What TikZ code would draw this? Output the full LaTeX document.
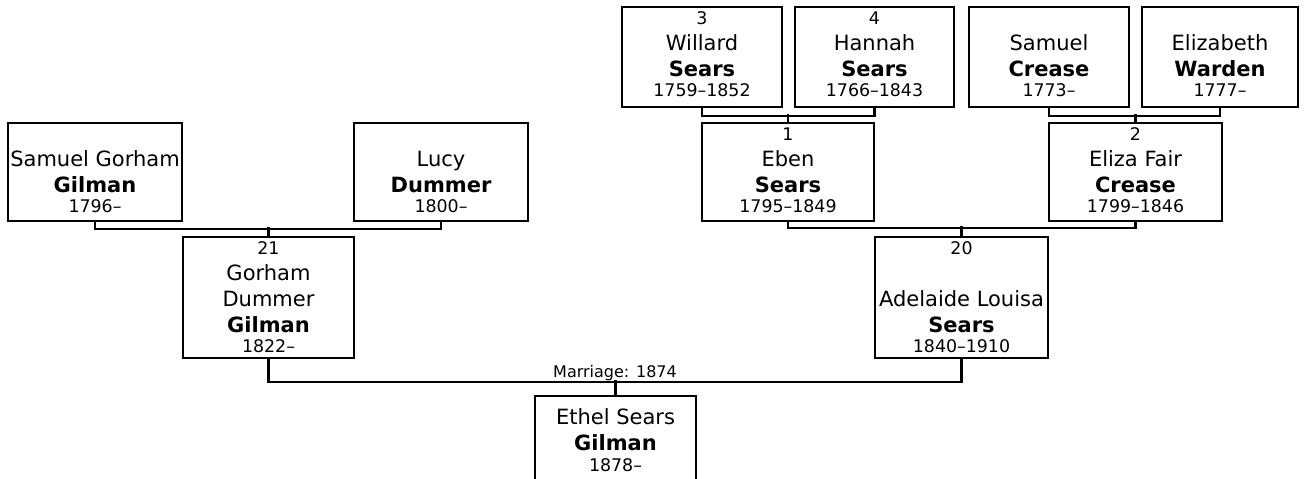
\documentclass[tikz,border=0pt]{standalone}
\usepackage{fontspec}
\setmainfont{DejaVu Sans}
\usetikzlibrary{positioning}
\tikzset{person/.style={draw,line width=2.2pt,inner sep=0pt,minimum height=98pt}}
\tikzset{info/.style={inner sep=0pt,align=center,font=\fontsize{21}{26}\selectfont}}
\tikzset{link/.style={line width=2.2pt}}
\newcommand{\sm}{\fontsize{17.4}{20}\selectfont}
\newcommand{\who}[4]{{\sm\rule{0pt}{13pt}#1}\\#2\\\textbf{#3}\\[-5.4pt]{\sm #4}}

\begin{document}
\begin{tikzpicture}[x=1pt,y=-1pt]
    \useasboundingbox (0,0) rectangle (1307,479);
    \clip (0,0) rectangle (1307,479);
    % grandparents and great-grandparents
    \node[person,minimum width=160pt,minimum height=100pt] (ws) at (702,57) {};
    \node[person,minimum width=159pt,minimum height=100pt] (hs) at (874.5,57) {};
    \node[person,minimum width=160pt,minimum height=100pt] (sc) at (1049,57) {};
    \node[person,minimum width=156pt,minimum height=100pt] (ew) at (1220,57) {};
    \node[person,minimum width=174pt] (sgg) at (95,172) {};
    \node[person,minimum width=174pt] (ld) at (441,172) {};
    \node[person,minimum width=172pt] (es) at (788,172) {};
    \node[person,minimum width=173pt] (efc) at (1135.5,172) {};
    \node[person,minimum width=171pt,minimum height=121pt] (gdg) at (268.5,297.5) {};
    \node[person,minimum width=173pt,minimum height=121pt] (als) at (961.5,297.5) {};
    \node[person,minimum width=161pt,minimum height=100pt] (esg) at (615.5,446) {};
    % texts
    \node[info,below=5.2pt of ws.north] (ws-t) {\who{3}{Willard}{Sears}{1759--1852}};
    \node[info,below=5.2pt of hs.north] (hs-t) {\who{4}{Hannah}{Sears}{1766--1843}};
    \node[info,below=5.2pt of sc.north] (sc-t) {\who{}{Samuel}{Crease}{1773--}};
    \node[info,below=5.2pt of ew.north] (ew-t) {\who{}{Elizabeth}{Warden}{1777--}};
    \node[info,below=5.2pt of sgg.north] (sgg-t) {\who{}{Samuel Gorham}{Gilman}{1796--}};
    \node[info,below=5.2pt of ld.north] (ld-t) {\who{}{Lucy}{Dummer}{1800--}};
    \node[info,below=5.2pt of es.north] (es-t) {\who{1}{Eben}{Sears}{1795--1849}};
    \node[info,below=5.2pt of efc.north] (efc-t) {\who{2}{Eliza Fair}{Crease}{1799--1846}};
    \node[info,below=5.2pt of gdg.north] (gdg-t) {\who{21}{Gorham\\Dummer}{Gilman}{1822--}};
    \node[info,below=5.2pt of als.north] (als-t) {\who{20}{\\Adelaide Louisa}{Sears}{1840--1910}};
    \node[info,below=13.6pt of esg.north] (esg-t) {Ethel Sears\\\textbf{Gilman}\\[-5.4pt]{\sm 1878--}};
    % family lines
    \draw[link] (ws.south) -- ++(0,8) -| (hs.south);
    \draw[link] (es.north) -- ++(0,-8);
    \draw[link] (sc.south) -- ++(0,8) -| (ew.south);
    \draw[link] (efc.north) -- ++(0,-8);
    \draw[link] (sgg.south) -- ++(0,7) -| (ld.south);
    \draw[link] (gdg.north) -- ++(0,-9);
    \draw[link] (es.south) -- ++(0,6) -| (efc.south);
    \draw[link] (als.north) -- ++(0,-10);
    \draw[link] (gdg.south) -- ++(0,23) -| (als.south);
    \draw[link] (esg.north) -- ++(0,-15);
    \node[inner sep=0pt,anchor=base,font=\fontsize{16}{19}\selectfont] (mar) at (615,377) {Marriage: 1874};
\end{tikzpicture}
\end{document}
